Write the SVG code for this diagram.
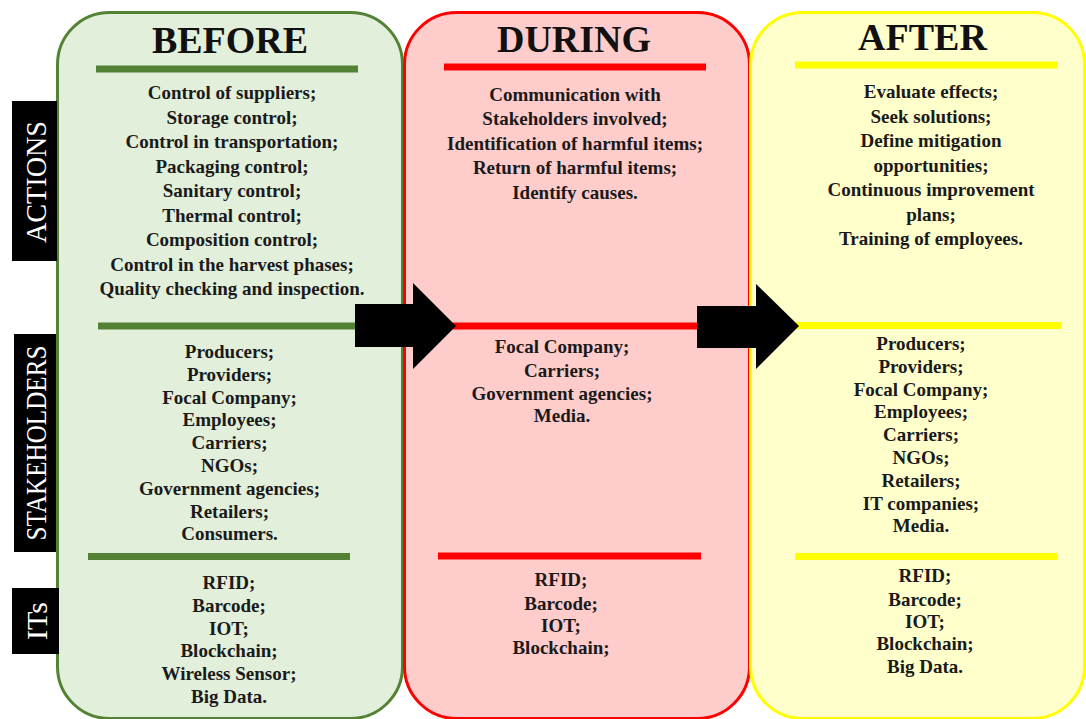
<svg xmlns="http://www.w3.org/2000/svg" width="1086" height="719" viewBox="0 0 1086 719">
<style>
.h{font-family:"Liberation Serif","Times New Roman",serif;font-weight:bold;font-size:38px;text-anchor:middle;fill:#111}
.t{font-family:"Liberation Serif","Times New Roman",serif;font-weight:bold;font-size:19px;text-anchor:middle;fill:#1a1a1a}
.lbl{font-family:"Liberation Serif","Times New Roman",serif;font-size:30px;text-anchor:middle;fill:#fff}
.g{stroke:#548235;stroke-width:7}
.r{stroke:#ff0000;stroke-width:7}
.y{stroke:#ffff00;stroke-width:7}
</style>
<rect width="1086" height="719" fill="#fff"/>
<g id="before">
<rect x="57.5" y="12.5" width="345" height="706" rx="52" ry="52" fill="#e2efda" stroke="#548235" stroke-width="3"/>
<text class="h" x="230" y="53">BEFORE</text>
<line class="g" x1="96" y1="69" x2="358" y2="69"/>
<text class="t" x="232" y="99">Control of suppliers;</text>
<text class="t" x="232" y="123.5">Storage control;</text>
<text class="t" x="232" y="148">Control in transportation;</text>
<text class="t" x="232" y="172.5">Packaging control;</text>
<text class="t" x="232" y="197">Sanitary control;</text>
<text class="t" x="232" y="221.5">Thermal control;</text>
<text class="t" x="232" y="246">Composition control;</text>
<text class="t" x="232" y="270.5">Control in the harvest phases;</text>
<text class="t" x="232" y="295">Quality checking and inspection.</text>
<line class="g" x1="98" y1="326" x2="360" y2="326"/>
<text class="t" x="229.5" y="358">Producers;</text>
<text class="t" x="229.5" y="381">Providers;</text>
<text class="t" x="229.5" y="403.5">Focal Company;</text>
<text class="t" x="229.5" y="426">Employees;</text>
<text class="t" x="229.5" y="449">Carriers;</text>
<text class="t" x="229.5" y="472">NGOs;</text>
<text class="t" x="229.5" y="495">Government agencies;</text>
<text class="t" x="229.5" y="518">Retailers;</text>
<text class="t" x="229.5" y="540">Consumers.</text>
<line class="g" x1="88" y1="556.5" x2="350" y2="556.5"/>
<text class="t" x="229" y="589">RFID;</text>
<text class="t" x="229" y="612">Barcode;</text>
<text class="t" x="229" y="634.5">IOT;</text>
<text class="t" x="229" y="657">Blockchain;</text>
<text class="t" x="229" y="680">Wireless Sensor;</text>
<text class="t" x="229" y="703">Big Data.</text>
</g>
<g id="during">
<rect x="404.5" y="12.5" width="345" height="706" rx="52" ry="52" fill="#ffcccc" stroke="#ff0000" stroke-width="3"/>
<text class="h" x="574" y="52">DURING</text>
<line class="r" x1="444" y1="67" x2="706" y2="67"/>
<text class="t" x="575" y="100.5">Communication with</text>
<text class="t" x="575" y="125">Stakeholders involved;</text>
<text class="t" x="575" y="149.5">Identification of harmful items;</text>
<text class="t" x="575" y="174">Return of harmful items;</text>
<text class="t" x="575" y="198.5">Identify causes.</text>
<line class="r" x1="450" y1="326" x2="700" y2="326"/>
<text class="t" x="562" y="353">Focal Company;</text>
<text class="t" x="562" y="377">Carriers;</text>
<text class="t" x="562" y="399.5">Government agencies;</text>
<text class="t" x="562" y="422">Media.</text>
<line class="r" x1="438" y1="556" x2="701" y2="556"/>
<text class="t" x="561" y="586">RFID;</text>
<text class="t" x="561" y="609.5">Barcode;</text>
<text class="t" x="561" y="632">IOT;</text>
<text class="t" x="561" y="654">Blockchain;</text>
</g>
<g id="after">
<rect x="750.5" y="12.5" width="334" height="706" rx="52" ry="52" fill="#ffffcc" stroke="#ffff00" stroke-width="3"/>
<text class="h" x="922.5" y="50">AFTER</text>
<line class="y" x1="795" y1="65" x2="1057" y2="65"/>
<text class="t" x="931" y="98">Evaluate effects;</text>
<text class="t" x="931" y="122.5">Seek solutions;</text>
<text class="t" x="931" y="147">Define mitigation</text>
<text class="t" x="931" y="171.5">opportunities;</text>
<text class="t" x="931" y="196">Continuous improvement</text>
<text class="t" x="931" y="220.5">plans;</text>
<text class="t" x="931" y="245">Training of employees.</text>
<line class="y" x1="795" y1="325.5" x2="1061" y2="325.5"/>
<text class="t" x="921" y="350">Producers;</text>
<text class="t" x="921" y="373">Providers;</text>
<text class="t" x="921" y="395.5">Focal Company;</text>
<text class="t" x="921" y="418">Employees;</text>
<text class="t" x="921" y="441">Carriers;</text>
<text class="t" x="921" y="464">NGOs;</text>
<text class="t" x="921" y="487">Retailers;</text>
<text class="t" x="921" y="509.5">IT companies;</text>
<text class="t" x="921" y="532">Media.</text>
<line class="y" x1="795" y1="556.5" x2="1057" y2="556.5"/>
<text class="t" x="925" y="582">RFID;</text>
<text class="t" x="925" y="606">Barcode;</text>
<text class="t" x="925" y="628">IOT;</text>
<text class="t" x="925" y="650">Blockchain;</text>
<text class="t" x="925" y="673">Big Data.</text>
</g>
<g id="labels">
<g id="label-actions">
<rect x="12" y="101" width="45" height="160" fill="#000"/>
<text class="lbl" transform="translate(45.5,182) rotate(-90)" x="0" y="0" textLength="122" lengthAdjust="spacingAndGlyphs">ACTIONS</text>
</g>
<g id="label-stakeholders">
<rect x="14" y="334" width="42" height="218" fill="#000"/>
<text class="lbl" transform="translate(45.5,443) rotate(-90)" x="0" y="0" textLength="195" lengthAdjust="spacingAndGlyphs">STAKEHOLDERS</text>
</g>
<g id="label-its">
<rect x="12" y="588" width="47" height="66" fill="#000"/>
<text class="lbl" transform="translate(46.5,621) rotate(-90)" x="0" y="0" textLength="38" lengthAdjust="spacingAndGlyphs">ITs</text>
</g>
</g>
<g id="connectors">
<polygon points="355,304 413,304 413,283 456,326 413,369 413,347 355,347" fill="#000"/>
<polygon points="697,306 756,306 756,284 799,326 756,369 756,348 697,348" fill="#000"/>
</g>
</svg>
